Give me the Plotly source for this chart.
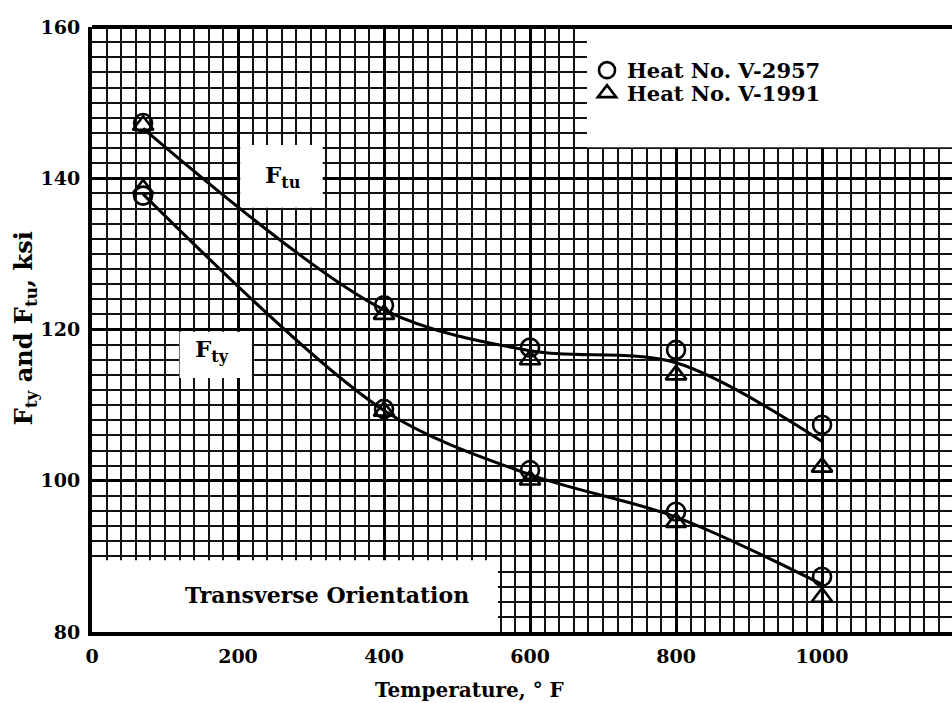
import plotly.graph_objects as go

# ---- data ----
temps = [70, 400, 600, 800, 1000]

ftu_v2957 = [147.3, 123.2, 117.6, 117.3, 107.4]
ftu_v1991 = [147.0, 122.0, 116.0, 114.0, 101.8]
fty_v2957 = [137.7, 109.5, 101.4, 95.9, 87.3]
fty_v1991 = [138.6, 109.2, 100.1, 94.5, 84.6]

# hand-faired curves through the data
ftu_curve = [146.6, 122.6, 117.2, 115.6, 105.2]
fty_curve = [137.9, 109.3, 100.8, 95.2, 86.3]

x_ticks = [0, 200, 400, 600, 800, 1000]
y_ticks = [80, 100, 120, 140, 160]

FONT = "DejaVu Serif"
BLACK = "#000000"

fig = go.Figure()

# faired curves
for curve in (ftu_curve, fty_curve):
    fig.add_trace(go.Scatter(x=temps, y=curve, mode="lines",
                             line=dict(color=BLACK, width=3, shape="spline", smoothing=0.9),
                             showlegend=False, hoverinfo="skip"))

# data points
fig.add_trace(go.Scatter(x=temps + temps, y=ftu_v2957 + fty_v2957, mode="markers",
                         name="Heat No. V-2957", legend="legend",
                         marker=dict(symbol="circle-open", size=18, color=BLACK,
                                     line=dict(width=2.6, color=BLACK))))
fig.add_trace(go.Scatter(x=temps + temps, y=ftu_v1991 + fty_v1991, mode="markers",
                         name="Heat No. V-1991", legend="legend2",
                         marker=dict(symbol="triangle-up-open", size=18, color=BLACK,
                                     line=dict(width=2.6, color=BLACK))))

# white label boxes (between grid and traces)
boxes = [
    (678, 1178, 144.1, 160.0),   # legend area
    (203, 316, 136.1, 144.4),    # Ftu label
    (120, 219, 113.6, 119.7),    # Fty label
    (0, 556, 80.0, 89.5),        # Transverse Orientation
]
shapes = []
for x0, x1, y0, y1 in boxes:
    shapes.append(dict(type="rect", xref="x", yref="y", x0=x0, x1=x1, y0=y0, y1=y1,
                       fillcolor="white", line=dict(width=0), layer="between"))
# top border
shapes.append(dict(type="line", xref="paper", yref="paper", x0=0, x1=1, y0=1, y1=1,
                   line=dict(color=BLACK, width=4), layer="above"))

bold = dict(family=FONT, color=BLACK, weight="bold")
annotations = [
    dict(x=262, y=140.2, xref="x", yref="y", text="F<sub>tu</sub>", showarrow=False,
         font=dict(size=23, **bold)),
    dict(x=165, y=117.2, xref="x", yref="y", text="F<sub>ty</sub>", showarrow=False,
         font=dict(size=23, **bold)),
    dict(x=322, y=84.9, xref="x", yref="y", text="Transverse Orientation", showarrow=False,
         font=dict(size=22, **bold)),
    dict(x=0.4395, y=-0.096, xref="paper", yref="paper", text="Temperature, ° F",
         showarrow=False, xanchor="center", yanchor="middle",
         font=dict(size=20, **bold)),
    dict(x=-0.078, y=0.502, xref="paper", yref="paper",
         text="F<sub>ty</sub> and F<sub>tu</sub>, ksi", textangle=-90,
         showarrow=False, xanchor="center", yanchor="middle",
         font=dict(size=24, **bold)),
]

legend_common = dict(xanchor="left", yanchor="top", bgcolor="rgba(0,0,0,0)", borderwidth=0,
                     font=dict(size=21, **bold), itemsizing="trace")

fig.update_layout(
    width=952, height=703,
    margin=dict(l=92, r=0, t=27, b=71),
    paper_bgcolor="white", plot_bgcolor="white",
    font=dict(family=FONT, color=BLACK),
    shapes=shapes,
    annotations=annotations,
    legend=dict(x=0.5756, y=0.962, **legend_common),
    legend2=dict(x=0.5756, y=0.924, **legend_common),
    xaxis=dict(range=[0, 1178], tickvals=x_ticks, ticktext=[str(v) for v in x_ticks],
               showgrid=True, gridcolor=BLACK, gridwidth=2.6, zeroline=False,
               showline=True, linecolor=BLACK, linewidth=4,
               ticks="", ticklabelstandoff=4,
               tickfont=dict(size=19, **bold),
               minor=dict(dtick=20, tick0=0, showgrid=True, gridcolor="#111111", gridwidth=2.1)),
    yaxis=dict(range=[80, 160], tickvals=y_ticks, ticktext=[str(v) for v in y_ticks],
               showgrid=True, gridcolor=BLACK, gridwidth=2.6, zeroline=False,
               showline=True, linecolor=BLACK, linewidth=4,
               ticks="", ticklabelstandoff=4,
               tickfont=dict(size=19, **bold),
               minor=dict(dtick=2, tick0=80, showgrid=True, gridcolor="#111111", gridwidth=2.1)),
)

# remove the page's default body margin so the figure sits at the window origin
fig.write_html("out.html",
               config={"displayModeBar": False},
               post_script="document.body.style.margin='0';document.body.style.overflow='hidden';")
